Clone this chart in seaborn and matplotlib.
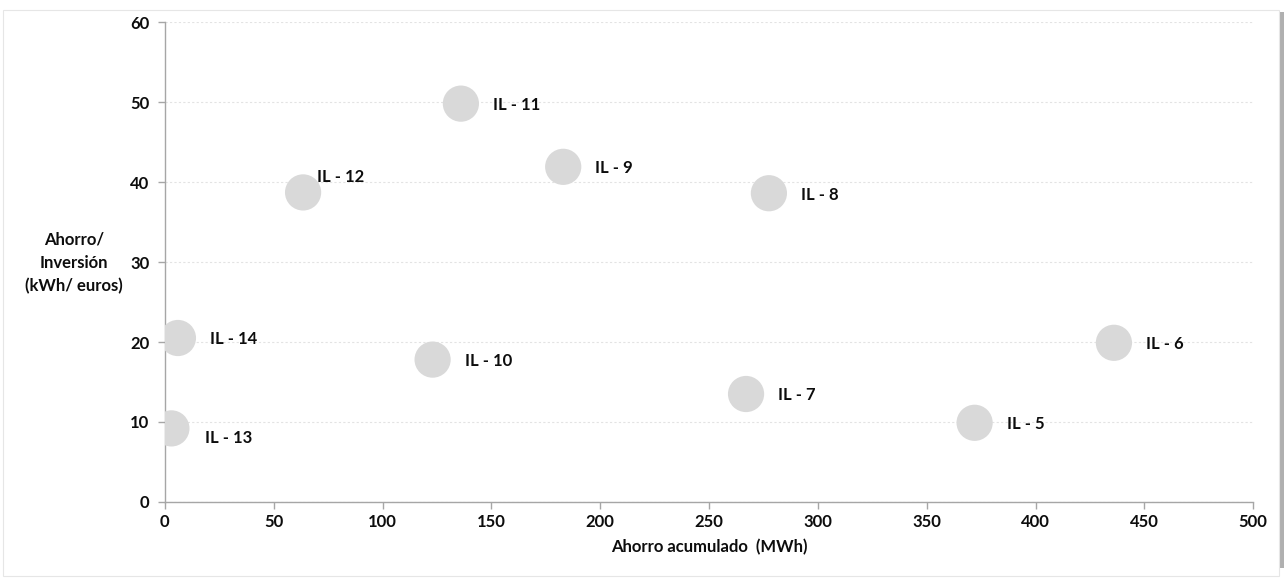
import matplotlib
matplotlib.use("Agg")
import matplotlib.pyplot as plt
from matplotlib.patches import Rectangle
import seaborn as sns
import pandas as pd

# Installations: cumulative savings (MWh) vs. savings per investment (kWh/euro)
labels = ["IL - 5", "IL - 6", "IL - 7", "IL - 8", "IL - 9", "IL - 10",
          "IL - 11", "IL - 12", "IL - 13", "IL - 14"]
ahorro_acumulado = [372, 436, 267, 277.5, 183, 123, 136, 63.5, 3, 6]
ahorro_inversion = [9.9, 19.9, 13.5, 38.6, 41.9, 17.8, 49.8, 38.7, 9.2, 20.5]
x_ticks = [0, 50, 100, 150, 200, 250, 300, 350, 400, 450, 500]
y_ticks = [0, 10, 20, 30, 40, 50, 60]

df = pd.DataFrame({"label": labels, "x": ahorro_acumulado, "y": ahorro_inversion})

sns.set_theme(style="white")
plt.rcParams["font.family"] = ["Lato", "DejaVu Sans"]
plt.rcParams["font.weight"] = "bold"

FS = 12
TXT = "#0d0d0d"

fig = plt.figure(figsize=(12.88, 5.8), dpi=100)
ax = fig.add_axes([0.128, 0.1345, 0.845, 0.8275])
ax.set_facecolor("none")

sns.scatterplot(data=df, x="x", y="y", s=680, color="#d9d9d9",
                edgecolor="none", linewidth=0, ax=ax, zorder=3, legend=False)

# label placement relative to each bubble (points)
offsets = {"IL - 12": (10, 11), "IL - 13": (24, -7)}
for lab, xv, yv in zip(labels, ahorro_acumulado, ahorro_inversion):
    dx, dy = offsets.get(lab, (23, -1))
    ax.annotate(lab, (xv, yv), xytext=(dx, dy), textcoords="offset points",
                ha="left", va="center", fontsize=FS, fontweight="bold",
                color=TXT, zorder=4)

ax.set_xlim(0, 500)
ax.set_ylim(0, 60)
ax.set_xticks(x_ticks)
ax.set_yticks(y_ticks)
ax.tick_params(axis="both", which="major", labelsize=FS, length=5, width=1,
               direction="out", pad=4, colors="#a6a6a6", labelcolor=TXT,
               bottom=True, left=True)
ax.tick_params(axis="y", pad=6)
for t in ax.get_xticklabels() + ax.get_yticklabels():
    t.set_fontweight("bold")

ax.yaxis.grid(True, color="#e3e3e3", linestyle=(0, (2, 2)), linewidth=0.8)
ax.xaxis.grid(False)
ax.set_axisbelow(True)
for side in ["top", "right"]:
    ax.spines[side].set_visible(False)
for side in ["left", "bottom"]:
    ax.spines[side].set_color("#a6a6a6")
    ax.spines[side].set_linewidth(1)

ax.set_xlabel("Ahorro acumulado  (MWh)", fontsize=FS, fontweight="bold",
              color=TXT, labelpad=6)
ax.set_ylabel("")
fig.text(74 / 1288, 1 - 263 / 580, "Ahorro/\nInversión\n(kWh/ euros)",
         ha="center", va="center", fontsize=FS, fontweight="bold",
         color=TXT, linespacing=1.55)

# chart frame with a soft shadow on the right edge
fig.patches.append(Rectangle((1279 / 1288, 0.02), 5 / 1288, 0.96,
                             transform=fig.transFigure, facecolor="#b0b0b0",
                             edgecolor="none", zorder=-3))
fig.patches.append(Rectangle((3 / 1288, 4 / 580), 1276 / 1288, 1 - 14 / 580,
                             transform=fig.transFigure, facecolor="white",
                             edgecolor="#e6e6e6", linewidth=0.8, zorder=-2))

fig.savefig("out.png", dpi=100)
